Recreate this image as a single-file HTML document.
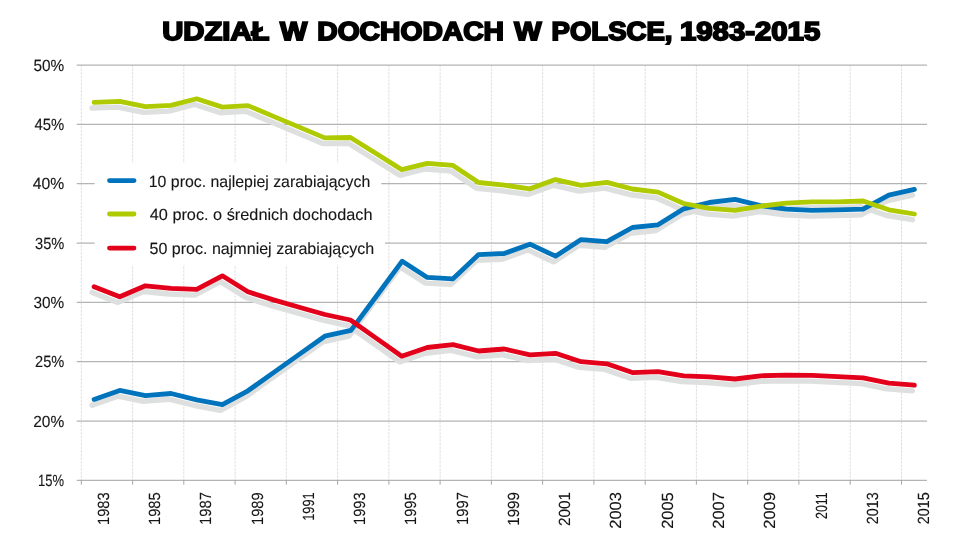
<!DOCTYPE html>
<html><head><meta charset="utf-8"><title>Udzial w dochodach w Polsce</title>
<style>
html,body{margin:0;padding:0;background:#fff;}
body{width:960px;height:540px;overflow:hidden;font-family:"Liberation Sans",sans-serif;}
svg{display:block;}
text{font-family:"Liberation Sans",sans-serif;fill:#161616;stroke:#161616;stroke-width:0.12px;text-rendering:geometricPrecision;}
</style></head><body>
<svg width="960" height="540" viewBox="0 0 960 540">
<rect width="960" height="540" fill="#fff"/>

<g stroke="#d8d8d8" stroke-width="0.85" stroke-dasharray="2.5 1.1" fill="none">
<line x1="81.3" y1="65.0" x2="81.3" y2="480.4"/>
<line x1="132.6" y1="65.0" x2="132.6" y2="480.4"/>
<line x1="183.8" y1="65.0" x2="183.8" y2="480.4"/>
<line x1="235.1" y1="65.0" x2="235.1" y2="480.4"/>
<line x1="286.3" y1="65.0" x2="286.3" y2="480.4"/>
<line x1="337.6" y1="65.0" x2="337.6" y2="480.4"/>
<line x1="388.9" y1="65.0" x2="388.9" y2="480.4"/>
<line x1="440.1" y1="65.0" x2="440.1" y2="480.4"/>
<line x1="491.4" y1="65.0" x2="491.4" y2="480.4"/>
<line x1="542.6" y1="65.0" x2="542.6" y2="480.4"/>
<line x1="593.9" y1="65.0" x2="593.9" y2="480.4"/>
<line x1="645.2" y1="65.0" x2="645.2" y2="480.4"/>
<line x1="696.4" y1="65.0" x2="696.4" y2="480.4"/>
<line x1="747.7" y1="65.0" x2="747.7" y2="480.4"/>
<line x1="798.9" y1="65.0" x2="798.9" y2="480.4"/>
<line x1="850.2" y1="65.0" x2="850.2" y2="480.4"/>
<line x1="901.5" y1="65.0" x2="901.5" y2="480.4"/>
</g>
<g stroke="#b4b4b4" stroke-width="1.25" fill="none">
<line x1="76.7" y1="65.0" x2="927" y2="65.0"/>
<line x1="76.7" y1="124.3" x2="927" y2="124.3"/>
<line x1="76.7" y1="183.7" x2="927" y2="183.7"/>
<line x1="76.7" y1="243.0" x2="927" y2="243.0"/>
<line x1="76.7" y1="302.4" x2="927" y2="302.4"/>
<line x1="76.7" y1="361.7" x2="927" y2="361.7"/>
<line x1="76.7" y1="421.1" x2="927" y2="421.1"/>
<line x1="76.7" y1="480.4" x2="927" y2="480.4"/>
</g>
<g stroke="#9c9c9c" stroke-width="0.9" fill="none">
<line x1="81.3" y1="480.4" x2="81.3" y2="484.7"/>
<line x1="132.6" y1="480.4" x2="132.6" y2="484.7"/>
<line x1="183.8" y1="480.4" x2="183.8" y2="484.7"/>
<line x1="235.1" y1="480.4" x2="235.1" y2="484.7"/>
<line x1="286.3" y1="480.4" x2="286.3" y2="484.7"/>
<line x1="337.6" y1="480.4" x2="337.6" y2="484.7"/>
<line x1="388.9" y1="480.4" x2="388.9" y2="484.7"/>
<line x1="440.1" y1="480.4" x2="440.1" y2="484.7"/>
<line x1="491.4" y1="480.4" x2="491.4" y2="484.7"/>
<line x1="542.6" y1="480.4" x2="542.6" y2="484.7"/>
<line x1="593.9" y1="480.4" x2="593.9" y2="484.7"/>
<line x1="645.2" y1="480.4" x2="645.2" y2="484.7"/>
<line x1="696.4" y1="480.4" x2="696.4" y2="484.7"/>
<line x1="747.7" y1="480.4" x2="747.7" y2="484.7"/>
<line x1="798.9" y1="480.4" x2="798.9" y2="484.7"/>
<line x1="850.2" y1="480.4" x2="850.2" y2="484.7"/>
<line x1="901.5" y1="480.4" x2="901.5" y2="484.7"/>
</g>
<rect x="94.7" y="163.0" width="286.6" height="34.1" fill="#fff"/>
<rect x="94.7" y="197.0" width="288.7" height="34.1" fill="#fff"/>
<rect x="94.7" y="231.0" width="290.3" height="34.1" fill="#fff"/>
<g fill="none" stroke="#dedfdf" stroke-width="5.4" stroke-linecap="round" stroke-linejoin="round">
<polyline points="92.1,405.1 117.7,396.1 143.4,401.3 169.0,399.2 194.6,405.5 220.3,410.3 245.9,396.5 271.5,378.3 297.2,360.1 322.8,341.9 349.0,336.1 374.7,301.5 400.2,266.9 425.3,283.1 451.0,284.4 476.6,260.3 502.2,259.2 527.9,249.9 553.5,261.9 579.1,245.3 604.8,247.4 630.4,233.2 656.0,230.5 681.7,214.4 707.3,208.2 733.0,205.1 758.6,211.3 784.2,214.8 809.9,216.1 835.5,215.5 861.1,214.9 886.8,200.9 912.4,195.1"/>
<polyline points="92.1,108.0 117.7,107.1 143.4,112.4 169.0,111.1 194.6,104.5 220.3,112.8 245.9,111.3 271.5,122.1 297.2,132.8 322.8,143.6 348.4,143.2 374.1,159.2 399.7,175.3 425.3,169.0 451.0,171.1 476.6,188.2 502.2,190.9 527.9,194.4 553.5,185.3 579.1,191.1 604.8,188.1 630.4,194.7 656.0,197.8 681.7,209.2 707.3,214.0 733.0,216.1 758.6,211.9 784.2,208.8 809.9,207.6 835.5,207.6 861.1,206.7 886.8,215.5 912.4,219.7"/>
<polyline points="92.1,292.4 117.7,302.4 143.4,291.5 169.0,294.0 194.6,295.1 220.3,281.5 245.9,297.5 271.5,305.6 297.2,312.9 322.8,320.2 348.4,325.7 374.1,343.8 399.7,361.9 425.3,353.2 451.0,350.4 476.6,356.7 502.2,354.7 527.9,360.5 553.5,359.0 579.1,367.4 604.8,369.4 630.4,378.3 656.0,377.4 681.7,381.5 707.3,382.6 733.0,384.7 758.6,381.5 784.2,380.9 809.9,381.1 835.5,382.4 861.1,383.6 886.8,388.8 912.4,390.9"/>
</g>
<g fill="none" stroke-width="4.8" stroke-linecap="round" stroke-linejoin="round">
<polyline stroke="#0073bd" points="94.1,399.4 119.7,390.4 145.4,395.6 171.0,393.5 196.6,399.8 222.3,404.6 247.9,390.8 273.5,372.6 299.2,354.4 324.8,336.2 351.0,330.4 376.7,295.8 402.2,261.2 427.3,277.4 453.0,278.8 478.6,254.6 504.2,253.5 529.9,244.2 555.5,256.2 581.1,239.6 606.8,241.7 632.4,227.5 658.0,224.8 683.7,208.8 709.3,202.5 735.0,199.4 760.6,205.6 786.2,209.1 811.9,210.4 837.5,209.8 863.1,209.2 888.8,195.2 914.4,189.4"/>
<polyline stroke="#afca00" points="94.1,102.3 119.7,101.4 145.4,106.7 171.0,105.4 196.6,98.8 222.3,107.1 247.9,105.6 273.5,116.4 299.2,127.1 324.8,137.9 350.4,137.5 376.1,153.5 401.7,169.6 427.3,163.3 453.0,165.4 478.6,182.5 504.2,185.2 529.9,188.8 555.5,179.6 581.1,185.4 606.8,182.4 632.4,189.0 658.0,192.1 683.7,203.5 709.3,208.3 735.0,210.4 760.6,206.2 786.2,203.1 811.9,201.9 837.5,201.9 863.1,201.0 888.8,209.8 914.4,214.0"/>
<polyline stroke="#e2001a" points="94.1,286.7 119.7,296.7 145.4,285.8 171.0,288.3 196.6,289.4 222.3,275.8 247.9,291.8 273.5,299.9 299.2,307.2 324.8,314.5 350.4,320.0 376.1,338.1 401.7,356.2 427.3,347.5 453.0,344.7 478.6,351.0 504.2,349.0 529.9,354.8 555.5,353.3 581.1,361.7 606.8,363.8 632.4,372.6 658.0,371.7 683.7,375.8 709.3,376.9 735.0,379.0 760.6,375.8 786.2,375.2 811.9,375.4 837.5,376.7 863.1,377.9 888.8,383.1 914.4,385.2"/>
</g>
<g fill="none" stroke-width="4.8" stroke-linecap="round">
<line stroke="#0073bd" x1="109.5" y1="180.6" x2="134" y2="180.6"/>
<line stroke="#afca00" x1="109.5" y1="214.0" x2="134" y2="214.0"/>
<line stroke="#e2001a" x1="109.5" y1="248.1" x2="134" y2="248.1"/>
</g>
<g opacity="0.999">
<text x="148.75" y="186.6" font-size="16.2" textLength="221.50" lengthAdjust="spacingAndGlyphs">10 proc. najlepiej zarabiających</text>
<text x="149.75" y="220.3" font-size="16.2" textLength="222.75" lengthAdjust="spacingAndGlyphs">40 proc. o średnich dochodach</text>
<text x="149.50" y="253.8" font-size="16.2" textLength="224.75" lengthAdjust="spacingAndGlyphs">50 proc. najmniej zarabiających</text>
<text x="33.50" y="70.5" font-size="16.2" textLength="30.75" lengthAdjust="spacingAndGlyphs">50%</text>
<text x="34.50" y="129.9" font-size="16.2" textLength="29.75" lengthAdjust="spacingAndGlyphs">45%</text>
<text x="32.75" y="189.2" font-size="16.2" textLength="31.50" lengthAdjust="spacingAndGlyphs">40%</text>
<text x="35.00" y="248.6" font-size="16.2" textLength="29.25" lengthAdjust="spacingAndGlyphs">35%</text>
<text x="33.50" y="307.9" font-size="16.2" textLength="30.75" lengthAdjust="spacingAndGlyphs">30%</text>
<text x="35.00" y="367.3" font-size="16.2" textLength="29.25" lengthAdjust="spacingAndGlyphs">25%</text>
<text x="33.25" y="426.6" font-size="16.2" textLength="31.00" lengthAdjust="spacingAndGlyphs">20%</text>
<text x="38.00" y="485.9" font-size="16.2" textLength="26.00" lengthAdjust="spacingAndGlyphs">15%</text>
<text transform="translate(108.7,624.00) rotate(-90)" x="99.00" y="0" font-size="16.2" textLength="32.75" lengthAdjust="spacingAndGlyphs">1983</text>
<text transform="translate(160.0,624.00) rotate(-90)" x="99.00" y="0" font-size="16.2" textLength="32.75" lengthAdjust="spacingAndGlyphs">1985</text>
<text transform="translate(211.2,624.00) rotate(-90)" x="99.00" y="0" font-size="16.2" textLength="33.00" lengthAdjust="spacingAndGlyphs">1987</text>
<text transform="translate(262.5,624.00) rotate(-90)" x="99.00" y="0" font-size="16.2" textLength="32.75" lengthAdjust="spacingAndGlyphs">1989</text>
<text transform="translate(313.8,619.75) rotate(-90)" x="99.00" y="0" font-size="16.2" textLength="28.50" lengthAdjust="spacingAndGlyphs">1991</text>
<text transform="translate(365.1,624.00) rotate(-90)" x="99.00" y="0" font-size="16.2" textLength="32.75" lengthAdjust="spacingAndGlyphs">1993</text>
<text transform="translate(416.3,624.00) rotate(-90)" x="99.00" y="0" font-size="16.2" textLength="32.75" lengthAdjust="spacingAndGlyphs">1995</text>
<text transform="translate(467.6,624.00) rotate(-90)" x="99.00" y="0" font-size="16.2" textLength="33.00" lengthAdjust="spacingAndGlyphs">1997</text>
<text transform="translate(518.9,624.75) rotate(-90)" x="99.00" y="0" font-size="16.2" textLength="33.75" lengthAdjust="spacingAndGlyphs">1999</text>
<text transform="translate(570.1,625.25) rotate(-90)" x="99.25" y="0" font-size="16.2" textLength="34.00" lengthAdjust="spacingAndGlyphs">2001</text>
<text transform="translate(621.4,628.00) rotate(-90)" x="99.25" y="0" font-size="16.2" textLength="36.75" lengthAdjust="spacingAndGlyphs">2003</text>
<text transform="translate(672.7,628.00) rotate(-90)" x="99.25" y="0" font-size="16.2" textLength="36.50" lengthAdjust="spacingAndGlyphs">2005</text>
<text transform="translate(723.9,628.00) rotate(-90)" x="99.25" y="0" font-size="16.2" textLength="36.75" lengthAdjust="spacingAndGlyphs">2007</text>
<text transform="translate(775.2,628.00) rotate(-90)" x="99.25" y="0" font-size="16.2" textLength="36.75" lengthAdjust="spacingAndGlyphs">2009</text>
<text transform="translate(826.5,618.50) rotate(-90)" x="99.50" y="0" font-size="16.2" textLength="26.75" lengthAdjust="spacingAndGlyphs">2011</text>
<text transform="translate(877.8,623.50) rotate(-90)" x="99.25" y="0" font-size="16.2" textLength="32.00" lengthAdjust="spacingAndGlyphs">2013</text>
<text transform="translate(929.0,623.50) rotate(-90)" x="99.25" y="0" font-size="16.2" textLength="32.00" lengthAdjust="spacingAndGlyphs">2015</text>
<text x="162.25" y="40.3" font-size="26.0" font-weight="bold" stroke-linejoin="miter" stroke-miterlimit="3" textLength="107.25" lengthAdjust="spacingAndGlyphs" style="fill:#000;stroke:#000;stroke-width:1.8px">UDZIAŁ</text>
<text x="280.00" y="40.3" font-size="26.0" font-weight="bold" stroke-linejoin="miter" stroke-miterlimit="3" textLength="27.25" lengthAdjust="spacingAndGlyphs" style="fill:#000;stroke:#000;stroke-width:1.8px">W</text>
<text x="317.25" y="40.3" font-size="26.0" font-weight="bold" stroke-linejoin="miter" stroke-miterlimit="3" textLength="186.75" lengthAdjust="spacingAndGlyphs" style="fill:#000;stroke:#000;stroke-width:1.8px">DOCHODACH</text>
<text x="514.25" y="40.3" font-size="26.0" font-weight="bold" stroke-linejoin="miter" stroke-miterlimit="3" textLength="27.25" lengthAdjust="spacingAndGlyphs" style="fill:#000;stroke:#000;stroke-width:1.8px">W</text>
<text x="551.50" y="40.3" font-size="26.0" font-weight="bold" stroke-linejoin="miter" stroke-miterlimit="3" textLength="121.00" lengthAdjust="spacingAndGlyphs" style="fill:#000;stroke:#000;stroke-width:1.8px">POLSCE,</text>
<text x="680.00" y="40.3" font-size="26.0" font-weight="bold" stroke-linejoin="miter" stroke-miterlimit="3" textLength="140.25" lengthAdjust="spacingAndGlyphs" style="fill:#000;stroke:#000;stroke-width:1.8px">1983-2015</text>
</g>
</svg></body></html>
